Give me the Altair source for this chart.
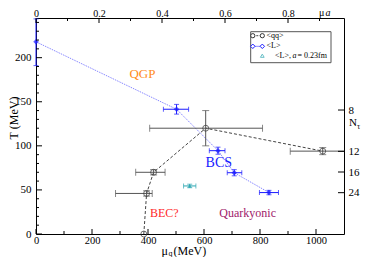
import altair as alt
import pandas as pd

# ---------------- data ----------------
# <qq> (black, dashed)
qq_mu    = [385, 395, 420, 606, 1024]
qq_T     = [0, 46, 70, 120, 94]
qq_mu_lo = [385, 284, 356, 406, 908]
qq_mu_hi = [385, 415, 461, 809, 1140]
qq_T_lo  = [0, 43, 67, 100, 90]
qq_T_hi  = [0, 49, 73, 140, 98]

# <L> (blue, dotted)
L_mu    = [0, 502, 650, 708, 832]
L_T     = [218, 141.5, 94.5, 69.5, 47]
L_mu_lo = [0, 455, 619, 683, 798]
L_mu_hi = [0, 545, 675, 735, 866]
L_T_lo  = [191, 136, 90.5, 66, 44.5]
L_T_hi  = [244, 147, 98.5, 73, 49.5]

# <L>, a = 0.23 fm (teal)
L23_mu    = [549]
L23_T     = [54.5]
L23_mu_lo = [527]
L23_mu_hi = [571]
L23_T_lo  = [52.5]
L23_T_hi  = [56.5]

# region labels
region_text   = ["QGP", "BCS", "BEC?", "Quarkyonic"]
region_mu     = [380, 653, 458, 756]
region_T      = [181, 80, 24, 24]
region_colors = ["#ff8c1a", "#1a1aff", "#ff2a2a", "#a0206a"]
region_sizes  = [13, 14, 12, 12]

# axes
mu_major   = [0, 200, 400, 600, 800, 1000]
mu_minor   = [100, 300, 500, 700, 900]
T_major    = [0, 50, 100, 150, 200]
T_minor    = [t for t in range(10, 250, 10) if t % 50 != 0]
mua_major  = [0, 0.2, 0.4, 0.6, 0.8]
mua_minor  = [0.1, 0.3, 0.5, 0.7, 0.9]
Ntau_ticks = [8, 12, 16, 24]
a_inv = 1125  # MeV

W, H = 308, 216
SERIF = "Liberation Serif, Times New Roman, serif"

xs = alt.Scale(domain=[0, 1100], nice=False, zero=False)
ys = alt.Scale(domain=[0, 245], nice=False, zero=False)

ax_bottom = alt.Axis(values=mu_major, ticks=False, domain=False, grid=False, title=None,
                     labelFont=SERIF, labelFontSize=10.5, labelPadding=1, labelColor="black",
                     labelFlush=False, labelOverlap=False, format="d")
ax_left = alt.Axis(values=T_major, ticks=False, domain=False, grid=False, title=None,
                   labelFont=SERIF, labelFontSize=11, labelPadding=5, labelColor="black",
                   labelFlush=False, labelOverlap=False, format="d")


def X(f):
    return alt.X(f, type="quantitative", scale=xs, axis=ax_bottom)


def Y(f):
    return alt.Y(f, type="quantitative", scale=ys, axis=ax_left)


def series_df(mu, T, mlo, mhi, tlo, thi):
    return pd.DataFrame({"mu": mu, "T": T, "mlo": mlo, "mhi": mhi, "tlo": tlo, "thi": thi,
                         "i": list(range(len(mu)))})


qq = series_df(qq_mu, qq_T, qq_mu_lo, qq_mu_hi, qq_T_lo, qq_T_hi)
LL = series_df(L_mu, L_T, L_mu_lo, L_mu_hi, L_T_lo, L_T_hi)
L23 = series_df(L23_mu, L23_T, L23_mu_lo, L23_mu_hi, L23_T_lo, L23_T_hi)


def errorbars(df, color, cap):
    h = df[df.mlo != df.mhi]
    v = df[df.tlo != df.thi]
    layers = []
    if len(h):
        base = alt.Chart(h)
        layers += [
            base.mark_rule(color=color, strokeWidth=1, clip=True).encode(x=X("mlo"), x2="mhi", y=Y("T")),
            base.mark_tick(color=color, orient="vertical", size=cap, thickness=1, clip=True).encode(x=X("mlo"), y=Y("T")),
            base.mark_tick(color=color, orient="vertical", size=cap, thickness=1, clip=True).encode(x=X("mhi"), y=Y("T")),
        ]
    if len(v):
        base = alt.Chart(v)
        layers += [
            base.mark_rule(color=color, strokeWidth=1).encode(x=X("mu"), y=Y("tlo"), y2="thi"),
            base.mark_tick(color=color, orient="horizontal", size=cap, thickness=1).encode(x=X("mu"), y=Y("tlo")),
            base.mark_tick(color=color, orient="horizontal", size=cap, thickness=1).encode(x=X("mu"), y=Y("thi")),
        ]
    return layers


BLACK = "#333333"
GRAY = "#555555"
BLUE = "#1a1aff"
TEAL = "#2aa5b0"

layers = []
# lines
layers.append(alt.Chart(qq).mark_line(color="#444444", strokeWidth=1, strokeDash=[3, 2]).encode(
    x=X("mu"), y=Y("T"), order="i:Q"))
layers.append(alt.Chart(LL).mark_line(color="#8a8aff", strokeWidth=1, strokeDash=[1.5, 1]).encode(
    x=X("mu"), y=Y("T"), order="i:Q"))
# error bars
layers += errorbars(qq, GRAY, 7)
layers += errorbars(LL, BLUE, 5)
layers += errorbars(L23, TEAL, 5)
# markers
layers.append(alt.Chart(qq).mark_point(shape="circle", filled=False, color=BLACK, size=35, strokeWidth=1).encode(
    x=X("mu"), y=Y("T")))
layers.append(alt.Chart(LL).mark_point(shape="diamond", filled=True, color=BLUE, size=30).encode(
    x=X("mu"), y=Y("T")))
layers.append(alt.Chart(L23).mark_point(shape="triangle-up", filled=True, color=TEAL, size=18).encode(
    x=X("mu"), y=Y("T")))

# region labels
reg = pd.DataFrame({"txt": region_text, "mu": region_mu, "T": region_T,
                    "c": region_colors, "s": region_sizes})
layers.append(alt.Chart(reg).mark_text(font=SERIF, baseline="middle", align="center").encode(
    x=X("mu"), y=Y("T"), text="txt:N",
    color=alt.Color("c:N", scale=None), size=alt.Size("s:Q", scale=None)))

# inward tick marks
def ticks_x(vals, top, length):
    d = pd.DataFrame({"v": vals})
    if top:
        return alt.Chart(d).mark_rule(color="black", strokeWidth=1).encode(
            x=X("v"), y=alt.value(0), y2=alt.value(length))
    return alt.Chart(d).mark_rule(color="black", strokeWidth=1).encode(
        x=X("v"), y=alt.value(H), y2=alt.value(H - length))


def ticks_y(vals, right, length):
    d = pd.DataFrame({"v": vals})
    if right:
        return alt.Chart(d).mark_rule(color="black", strokeWidth=1).encode(
            y=Y("v"), x=alt.value(W), x2=alt.value(W - length))
    return alt.Chart(d).mark_rule(color="black", strokeWidth=1).encode(
        y=Y("v"), x=alt.value(0), x2=alt.value(length))


layers += [
    ticks_x(mu_major, False, 5), ticks_x(mu_minor, False, 3),
    ticks_x([m * a_inv for m in mua_major], True, 5), ticks_x([m * a_inv for m in mua_minor], True, 3),
    ticks_y(T_major, False, 6), ticks_y(T_minor, False, 3),
    ticks_y([a_inv / n for n in Ntau_ticks], True, 6),
]

# legend (manual)
one = pd.DataFrame({"z": [0]})
LX0, LX1, LY0, LY1 = 214.7, 295, 13.7, 44.7
layers.append(alt.Chart(one).mark_rect(fill="white", stroke="#555555", strokeWidth=1).encode(
    x=alt.value(LX0), x2=alt.value(LX1), y=alt.value(LY0), y2=alt.value(LY1)))
r1, r2, r3 = 17.7, 28.3, 37.7
s1, s2 = 216.8, 226.3
layers.append(alt.Chart(one).mark_rule(color="#444444", strokeDash=[2, 1.5]).encode(
    x=alt.value(s1), x2=alt.value(s2), y=alt.value(r1)))
layers.append(alt.Chart(one).mark_rule(color="#8a8aff").encode(
    x=alt.value(s1), x2=alt.value(s2), y=alt.value(r2)))
for sx in (s1, s2):
    layers.append(alt.Chart(one).mark_point(shape="circle", filled=True, fill="white", stroke=BLACK,
                                            size=18, strokeWidth=1, opacity=1).encode(
        x=alt.value(sx), y=alt.value(r1)))
    layers.append(alt.Chart(one).mark_point(shape="diamond", filled=True, fill="white", stroke=BLUE,
                                            size=20, strokeWidth=1, opacity=1).encode(
        x=alt.value(sx), y=alt.value(r2)))
layers.append(alt.Chart(one).mark_point(shape="triangle-up", filled=False, color=TEAL, size=14,
                                        strokeWidth=1).encode(x=alt.value(s2), y=alt.value(r3)))
leg_txt = [("<qq>", 230.5, r1, "normal"), ("<L>", 230.5, r2, "normal"),
           ("<L>,", 239, r3, "normal"), ("a", 256.5, r3, "italic"), ("= 0.23fm", 261.5, r3, "normal")]
for t, tx, ty, st in leg_txt:
    layers.append(alt.Chart(one).mark_text(text=t, font=SERIF, fontSize=8, fontStyle=st, align="left",
                                           baseline="middle", color="black").encode(
        x=alt.value(tx), y=alt.value(ty)))

# axis titles (manual)
titles = [
    ("T (MeV)", -22, H / 2 - 8, 12, "normal", "center", 270, "middle"),
    ("\u03bc", 125.5, H + 17, 12, "normal", "left", 0, "middle"),
    ("q", 132.5, H + 20, 8, "normal", "left", 0, "middle"),
    ("(MeV)", 137.5, H + 17, 12, "normal", "left", 0, "middle"),
    ("\u03bc", 283, -5, 10, "normal", "left", 0, "middle"),
    ("a", 289.5, -5, 10, "italic", "left", 0, "middle"),
    ("N", 313, 105, 11, "normal", "left", 0, "middle"),
    ("\u03c4", 321, 109, 8, "normal", "left", 0, "middle"),
]
for t, tx, ty, fs, st, al, ang, bl in titles:
    layers.append(alt.Chart(one).mark_text(text=t, font=SERIF, fontSize=fs, fontStyle=st, align=al,
                                           baseline=bl, angle=ang, color="black").encode(
        x=alt.value(tx), y=alt.value(ty)))

main = alt.layer(*layers)

# carrier layer for the top (mu*a) and right (N_tau) axes
carrier = alt.Chart(pd.DataFrame({"mu": [0], "T": [0]})).mark_point(opacity=0).encode(
    x=alt.X("mu:Q", scale=alt.Scale(domain=[0, 1100], nice=False, zero=False),
            axis=alt.Axis(orient="top", values=[m * a_inv for m in mua_major], ticks=False, domain=False,
                          grid=False, title=None, labelFont=SERIF, labelFontSize=10, labelPadding=0,
                          labelColor="black", labelFlush=False, labelOverlap=False,
                          labelExpr=f"datum.value == 0 ? '0' : format(datum.value/{a_inv}, '.1f')")),
    y=alt.Y("T:Q", scale=alt.Scale(domain=[0, 245], nice=False, zero=False),
            axis=alt.Axis(orient="right", values=[a_inv / n for n in Ntau_ticks], ticks=False, domain=False,
                          grid=False, title=None, labelFont=SERIF, labelFontSize=11, labelPadding=4,
                          labelColor="black", labelFlush=False, labelOverlap=False,
                          labelExpr=f"format(round({a_inv}/datum.value), 'd')")),
)

chart = alt.layer(main, carrier).resolve_scale(x="independent", y="independent").properties(
    width=W, height=H,
    autosize=alt.AutoSizeParams(type="none"),
    padding={"left": 28, "top": 10, "right": 21, "bottom": 23},
    background="white",
).configure_view(stroke="black", strokeWidth=1)

chart.save("out.html", embed_options={"renderer": "svg", "actions": False})
